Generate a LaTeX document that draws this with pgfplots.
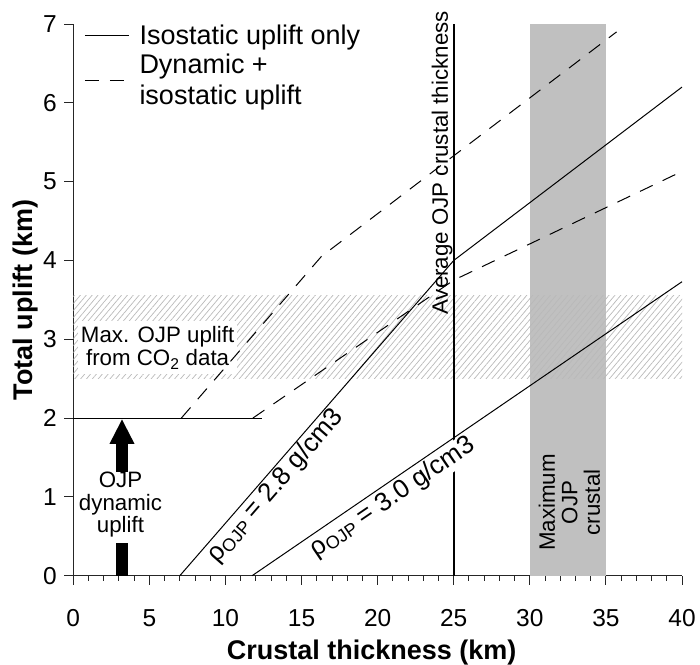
\documentclass[border=0pt]{standalone}
\usepackage{fontspec}
\setmainfont{Liberation Sans}
\usepackage{pgfplots}
\pgfplotsset{compat=1.18}
\usetikzlibrary{patterns.meta,arrows.meta}

\definecolor{shade}{RGB}{192,192,192}
\definecolor{hatch}{RGB}{185,185,185}

% rho with OJP subscript
\newcommand{\rhoOJP}{ρ\raisebox{-3pt}{\fontsize{18}{18}\selectfont OJP}}

\begin{document}
\begin{tikzpicture}
	\begin{axis}[
		scale only axis,
		width=608.7pt, height=551.7pt,
		xmin=0, xmax=40, ymin=0, ymax=7,
		axis x line=bottom, axis y line=left,
		axis line style={-, line width=1.1pt, black!85},
		xtick={0,5,...,40}, minor x tick num=4,
		ytick={0,1,...,7},
		tick align=outside,
		major tick length=9pt, minor tick length=5pt,
		every tick/.style={black!85, line width=1pt},
		/pgf/number format/assume math mode=true,
		ticklabel style={font=\fontsize{24.5}{26}\selectfont},
		xticklabel style={yshift=-21pt},
		yticklabel style={xshift=-4pt},
		xlabel={Crustal thickness (km)},
		ylabel={Total uplift (km)},
		every axis x label/.style={at={(axis description cs:0.49,0)}, anchor=base, yshift=-84pt, font=\fontsize{27}{30}\selectfont\bfseries},
		every axis y label/.style={at={(axis description cs:0,0.5)}, xshift=-41pt, rotate=90, anchor=base, font=\fontsize{27}{30}\selectfont\bfseries},
		legend style={at={(axis description cs:0,1)}, anchor=north west, draw=none, fill=none,
			font=\fontsize{27}{31}\selectfont, cells={align=left}, row sep=4pt, xshift=8pt, yshift=3pt},
		legend cell align=left,
		legend image code/.code={\draw[#1] (0pt,0pt) -- (44pt,0pt); \path (52pt,0pt);},
		clip=false,
	]

		% maximum crustal thickness band
		\addplot[fill=shade, draw=none, forget plot]
		coordinates {(30,0)(35,0)(35,7)(30,7)} -- cycle;

		% max uplift from CO2 data (hatched)
		\addplot[draw=none, pattern={Lines[angle=50,distance=4.5pt,line width=0.7pt]}, pattern color=hatch, forget plot]
		coordinates {(0,2.5)(40,2.5)(40,3.55)(0,3.55)} -- cycle;

		\node[font=\fontsize{22.3}{23}\selectfont, fill=white, align=center, inner xsep=3pt, inner ysep=5pt]
			at (axis cs:5.54,2.89) {Max. OJP uplift\\from CO\textsubscript{2} data};

		% average crustal thickness
		\addplot[line width=2pt, forget plot] coordinates {(25,0)(25,7)};

		% isostatic uplift only
		\addplot[line width=1pt] coordinates {(7,0)(25,4.0)(40,6.2)};
		\addlegendentry{Isostatic uplift only}

		% dynamic + isostatic
		\addplot[line width=1pt, dash pattern=on 14pt off 11pt] coordinates {(7.1,2)(16.3,4.05)(35.7,6.9)};
		\addlegendentry{Dynamic +\\isostatic uplift}

		\addplot[line width=1pt, dash pattern=on 14pt off 11pt, forget plot] coordinates {(11.8,2)(25,3.75)(40,5.13)};

		\addplot[line width=1pt, forget plot] coordinates {(0,2)(12.4,2)};

		% label of 3.0 line hides the vertical line
		\node[rotate=34.3, anchor=north, inner sep=1pt, fill=white, font=\fontsize{26}{27}\selectfont]
			at (axis cs:20.5,1.13) {\rhoOJP{} = 3.0 g/cm3};
		\addplot[line width=1pt, forget plot] coordinates {(11.75,0)(40,3.73)};

		\node[rotate=49, anchor=north, inner sep=1pt, font=\fontsize{26}{27}\selectfont]
			at (axis cs:12.65,1.25) {\rhoOJP{} = 2.8 g/cm3};

		% dynamic uplift arrow
		\addplot[line width=11.5pt, forget plot] coordinates {(3.2,0)(3.2,0.42)};
		\addplot[line width=11.5pt, -{Triangle[width=23pt,length=25pt]}, forget plot] coordinates {(3.2,1.32)(3.2,1.99)};
		\node[font=\fontsize{22.3}{22.5}\selectfont, align=center] at (axis cs:3.1,0.9) {OJP\\dynamic\\uplift};

		\node[font=\fontsize{22.3}{23}\selectfont, rotate=90, anchor=south east, inner sep=1pt, xshift=-1pt]
			at (axis cs:25,7.19) {Average OJP crustal thickness};

		\node[font=\fontsize{22.3}{22.5}\selectfont, rotate=90, align=center]
			at (axis cs:32.6,0.93) {Maximum\\OJP\\crustal};

	\end{axis}
	\pgfresetboundingbox
	\useasboundingbox (-73.3pt,-88.3pt) rectangle (626.7pt,575.7pt);
\end{tikzpicture}
\end{document}
